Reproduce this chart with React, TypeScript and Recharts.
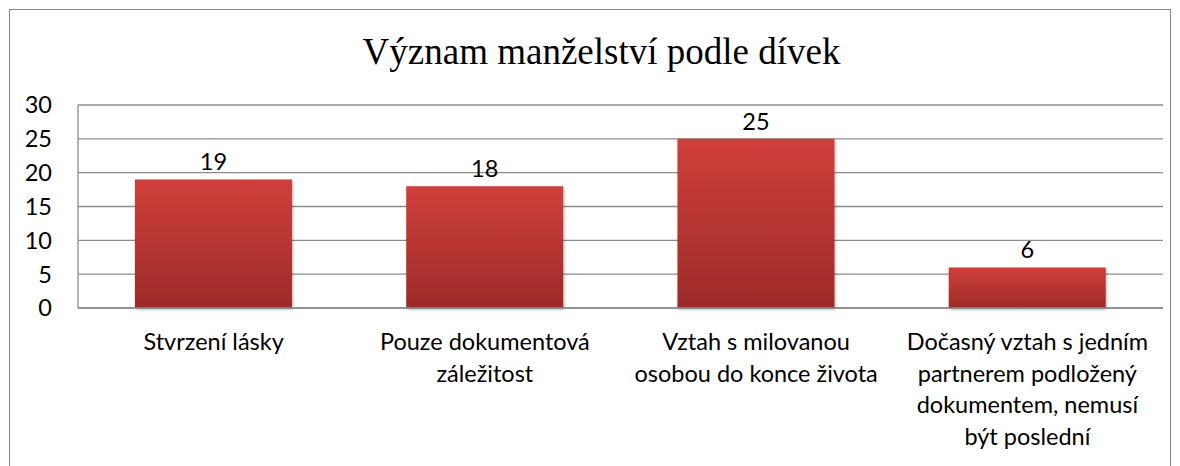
import { BarChart, Bar, XAxis, YAxis, CartesianGrid, LabelList } from "recharts";

const categories = [
  "Stvrzení lásky",
  "Pouze dokumentová\nzáležitost",
  "Vztah s milovanou\nosobou do konce života",
  "Dočasný vztah s jedním\npartnerem podložený\ndokumentem, nemusí\nbýt poslední",
];
const values = [19, 18, 25, 6];
const yTicks = [0, 5, 10, 15, 20, 25, 30];

const data = categories.map((name, i) => ({ name, value: values[i] }));

const FONT = "Lato, 'Open Sans', sans-serif";

function CatTick({ x, y, payload }: { x?: number; y?: number; payload?: { value: string } }) {
  const lines = String(payload?.value ?? "").split("\n");
  return (
    <text x={x} y={(y ?? 0) + 34} textAnchor="middle" fontFamily={FONT} fontSize={23.5} fill="#000">
      {lines.map((l, i) => (
        <tspan key={i} x={x} dy={i === 0 ? 0 : 31.7}>
          {l}
        </tspan>
      ))}
    </text>
  );
}

export default function App() {
  return (
    <div style={{ position: "absolute", left: 0, top: 0, width: 1180, height: 466, background: "#fff", overflow: "hidden" }}>
      <div
        style={{
          position: "absolute",
          left: 9,
          top: 9,
          width: 1162,
          height: 480,
          border: "1.5px solid #868686",
          boxSizing: "border-box",
        }}
      />
      <div
        style={{
          position: "absolute",
          left: 0,
          top: 28,
          width: 1203,
          textAlign: "center",
          fontFamily: "'Liberation Serif', 'Times New Roman', serif",
          fontSize: 37,
          color: "#000",
          lineHeight: "48px",
        }}
      >
        Význam manželství podle dívek
      </div>
      <div style={{ position: "absolute", left: 0, top: 0 }}>
        <BarChart
          width={1180}
          height={466}
          data={data}
          margin={{ top: 105, right: 17, left: 18, bottom: 18 }}
          barCategoryGap="21%"
        >
          <defs>
            <linearGradient id="barGrad" x1="0" y1="0" x2="0" y2="1">
              <stop offset="0%" stopColor="#D03F3B" />
              <stop offset="100%" stopColor="#9C2B29" />
            </linearGradient>
            <filter id="barShadow" x="-10%" y="-10%" width="120%" height="120%">
              <feDropShadow dx="1" dy="1.5" stdDeviation="1.5" floodColor="#000" floodOpacity="0.3" />
            </filter>
          </defs>
          <CartesianGrid vertical={false} stroke="#8c8c8c" strokeWidth={1.3} />
          <XAxis
            dataKey="name"
            height={140}
            interval={0}
            tick={<CatTick />}
            tickLine={false}
            axisLine={{ stroke: "#8c8c8c", strokeWidth: 1.3 }}
          />
          <YAxis
            width={60}
            domain={[0, 30]}
            ticks={yTicks}
            interval={0}
            tickLine={false}
            tickSize={0}
            tickMargin={26}
            axisLine={{ stroke: "#8c8c8c", strokeWidth: 1.3 }}
            tick={{ fontFamily: FONT, fontSize: 23.5, fill: "#000" }}
          />
          <Bar dataKey="value" fill="url(#barGrad)" filter="url(#barShadow)" isAnimationActive={false}>
            <LabelList dataKey="value" position="top" offset={9} fontFamily={FONT} fontSize={23.5} fill="#000" />
          </Bar>
        </BarChart>
      </div>
    </div>
  );
}
